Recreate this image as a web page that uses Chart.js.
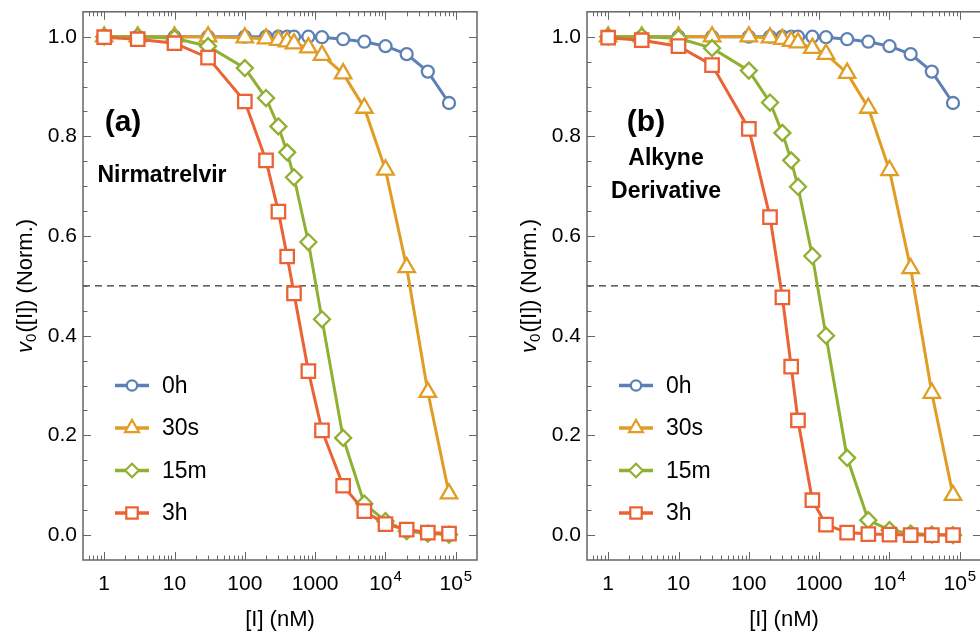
<!DOCTYPE html>
<html>
<head>
<meta charset="utf-8">
<script src="https://cdn.jsdelivr.net/npm/chart.js@4.4.0/dist/chart.umd.min.js"></script>
<style>
  body { margin: 0; background: #fff; overflow: hidden; width: 980px; height: 635px; position: relative; }
  canvas { position: absolute; top: 0; }
  #chartA { left: 0; }
  #chartB { left: 490px; }
</style>
</head>
<body>
<canvas id="chartA" width="490" height="635"></canvas>
<canvas id="chartB" width="510" height="635"></canvas>
<script>
// inhibitor concentration (nM)
const concNM = [1, 3, 10, 30, 100, 200, 300, 400, 500, 800, 1250, 2500, 5000, 10000, 20000, 40000, 80000];
const seriesNames = ['0h', '30s', '15m', '3h'];

// (a) Nirmatrelvir
const nirm0h  = [1, 1, 1, 1, 1, 1, 1, 1, 1, 1, 0.999, 0.995, 0.99, 0.981, 0.965, 0.93, 0.867];
const nirm30s = [1, 1, 1, 1, 0.998, 0.996, 0.993, 0.99, 0.986, 0.978, 0.963, 0.926, 0.857, 0.733, 0.537, 0.287, 0.083];
const nirm15m = [1, 1, 0.997, 0.981, 0.937, 0.877, 0.82, 0.768, 0.718, 0.588, 0.433, 0.195, 0.063, 0.028, 0.008, 0.003, 0.001];
const nirm3h  = [0.999, 0.995, 0.987, 0.958, 0.87, 0.752, 0.649, 0.559, 0.485, 0.329, 0.21, 0.099, 0.048, 0.022, 0.011, 0.005, 0.003];

// (b) Alkyne derivative
const alk0h  = [1, 1, 1, 1, 1, 1, 1, 1, 1, 1, 0.999, 0.995, 0.99, 0.981, 0.965, 0.93, 0.867];
const alk30s = [1, 1, 1, 1, 1, 0.998, 0.995, 0.991, 0.988, 0.977, 0.965, 0.927, 0.857, 0.732, 0.535, 0.285, 0.08];
const alk15m = [1, 1, 0.997, 0.977, 0.932, 0.868, 0.807, 0.752, 0.699, 0.56, 0.4, 0.155, 0.03, 0.01, 0.003, 0.001, 0];
const alk3h  = [0.998, 0.993, 0.981, 0.943, 0.815, 0.638, 0.477, 0.338, 0.23, 0.07, 0.021, 0.005, 0.002, 0.001, 0, 0, 0];

const halfLine = 0.5;
const xMin = 0.5, xMax = 2e5;
const yMin = -0.05, yMax = 1.05;
const xTickValues = [1, 10, 100, 1000, 1e4, 1e5];
const xTickBase = ['1', '10', '100', '1000', '10', '10'];
const xTickExp = ['', '', '', '', '4', '5'];

const seriesColors = ['#5E81B5', '#E19C24', '#8FB032', '#EB6235'];
const markerStyles = ['circle', 'triangle', 'rectRot', 'rect'];
const markerSizes = [6, 9.5, 8, 9.5];

const fam = '"Liberation Sans", Arial, sans-serif';
const frameColor = '#666';

function drawMarker(ctx, i, px, py) {
  ctx.save();
  ctx.fillStyle = '#fff';
  ctx.strokeStyle = seriesColors[i];
  ctx.lineWidth = 2.2;
  Chart.helpers.drawPoint(ctx, { pointStyle: markerStyles[i], radius: markerSizes[i] * 0.85, borderWidth: 2.2, rotation: 0 }, px, py);
  ctx.restore();
}

function makePanel(id, p) {
  const datasets = seriesNames.map((name, i) => ({
    label: name,
    data: concNM.map((c, k) => ({ x: c, y: p.values[i][k] })),
    borderColor: seriesColors[i],
    backgroundColor: '#fff',
    pointBackgroundColor: '#fff',
    pointBorderColor: seriesColors[i],
    pointStyle: markerStyles[i],
    pointRadius: markerSizes[i],
    pointBorderWidth: 2.3,
    borderWidth: 3,
    tension: 0,
    order: seriesNames.length - i
  }));
  datasets.push({
    label: 'half',
    data: [{ x: xMin, y: halfLine }, { x: xMax, y: halfLine }],
    borderColor: '#000', borderWidth: 1, borderDash: [7, 5],
    pointRadius: 0, order: 10
  });

  const decor = {
    id: 'decor',
    afterDraw(chart) {
      const { ctx, chartArea: a, scales: { x, y } } = chart;
      ctx.save();
      // inward ticks on all sides
      ctx.strokeStyle = frameColor;
      ctx.lineWidth = 1;
      ctx.beginPath();
      for (let n = -1; n <= 5; n++) {
        for (let k = 1; k <= 9; k++) {
          const v = k * Math.pow(10, n);
          if (v <= xMin || v >= xMax) continue;
          const px = Math.round(x.getPixelForValue(v)) + 0.5;
          const len = k === 1 ? 8 : 4.5;
          ctx.moveTo(px, a.bottom); ctx.lineTo(px, a.bottom - len);
          ctx.moveTo(px, a.top); ctx.lineTo(px, a.top + len);
        }
      }
      for (let i = -1; i <= 21; i++) {
        const v = i * 0.05;
        if (v <= yMin + 1e-9 || v >= yMax - 1e-9) continue;
        const py = Math.round(y.getPixelForValue(v)) + 0.5;
        const len = i % 4 === 0 ? 8 : 4.5;
        ctx.moveTo(a.left, py); ctx.lineTo(a.left + len, py);
        ctx.moveTo(a.right, py); ctx.lineTo(a.right - len, py);
      }
      ctx.stroke();
      // frame
      ctx.lineWidth = 1.5;
      ctx.strokeRect(a.left, a.top, a.right - a.left, a.bottom - a.top);

      // x tick labels with superscripts
      ctx.fillStyle = '#000';
      ctx.textBaseline = 'alphabetic';
      ctx.textAlign = 'left';
      xTickValues.forEach((v, i) => {
        const px = x.getPixelForValue(v);
        ctx.font = '21px ' + fam;
        const wb = ctx.measureText(xTickBase[i]).width;
        ctx.font = '15px ' + fam;
        const we = xTickExp[i] ? ctx.measureText(xTickExp[i]).width + 1 : 0;
        const x0 = px - (wb + we) / 2;
        ctx.font = '21px ' + fam;
        ctx.fillText(xTickBase[i], x0, a.bottom + 30);
        if (xTickExp[i]) {
          ctx.font = '15px ' + fam;
          ctx.fillText(xTickExp[i], x0 + wb + 1, a.bottom + 21);
        }
      });

      // x axis title
      ctx.font = '22px ' + fam;
      ctx.textAlign = 'center';
      ctx.textBaseline = 'middle';
      ctx.fillText('[I] (nM)', (a.left + a.right) / 2, a.bottom + 60);

      // y axis title: v0([I]) (Norm.)
      ctx.save();
      ctx.translate(a.left - 57, (a.top + a.bottom) / 2);
      ctx.rotate(-Math.PI / 2);
      ctx.textAlign = 'left';
      ctx.textBaseline = 'middle';
      const fv = 'italic 22px ' + fam, fs = '15px ' + fam, fm = '22px ' + fam;
      ctx.font = fv; const w1 = ctx.measureText('v').width;
      ctx.font = fs; const w2 = ctx.measureText('0').width;
      ctx.font = fm; const w3 = ctx.measureText('([I]) (Norm.)').width;
      let tx = -(w1 + w2 + w3 + 1) / 2;
      ctx.font = fv; ctx.fillText('v', tx, 0); tx += w1;
      ctx.font = fs; ctx.fillText('0', tx, 6); tx += w2 + 1;
      ctx.font = fm; ctx.fillText('([I]) (Norm.)', tx, 0);
      ctx.restore();

      // panel letter and compound name
      ctx.textAlign = 'center';
      ctx.textBaseline = 'middle';
      ctx.font = 'bold 30px ' + fam;
      ctx.fillText(p.letter, a.left + p.letterDx, 123);
      ctx.font = 'bold 23px ' + fam;
      p.name.forEach((t, i) => ctx.fillText(t, a.left + 79, p.nameY[i]));

      // legend
      ctx.textAlign = 'left';
      ctx.font = '23px ' + fam;
      seriesNames.forEach((name, i) => {
        const ly = 385.5 + i * 42.5;
        ctx.strokeStyle = seriesColors[i];
        ctx.lineWidth = 3.5;
        ctx.beginPath();
        ctx.moveTo(a.left + 32, ly); ctx.lineTo(a.left + 66, ly);
        ctx.stroke();
        drawMarker(ctx, i, a.left + 49, ly);
        ctx.fillStyle = '#000';
        ctx.fillText(name, a.left + 79, ly + 1);
      });
      ctx.restore();
    }
  };

  return new Chart(document.getElementById(id), {
    type: 'line',
    data: { datasets },
    options: {
      responsive: false,
      animation: false,
      layout: { padding: { left: 0, right: p.padRight, top: 10, bottom: 0 } },
      plugins: { legend: { display: false }, tooltip: { enabled: false } },
      scales: {
        x: {
          type: 'logarithmic', min: xMin, max: xMax,
          grid: { display: false, drawTicks: false },
          border: { display: false },
          ticks: { display: false },
          afterFit: s => { s.height = 75; }
        },
        y: {
          min: yMin, max: yMax,
          grid: { display: false, drawTicks: false },
          border: { display: false },
          ticks: {
            stepSize: 0.2, includeBounds: false, padding: 6, color: '#000',
            font: { family: fam, size: 21 },
            callback: v => v.toFixed(1)
          },
          afterFit: s => { s.width = p.yWidth; s.paddingTop = 0; s.paddingBottom = 0; }
        }
      }
    },
    plugins: [decor]
  });
}

makePanel('chartA', {
  values: [nirm0h, nirm30s, nirm15m, nirm3h],
  letter: '(a)', letterDx: 40,
  name: ['Nirmatrelvir'], nameY: [176],
  yWidth: 83, padRight: 13
});
makePanel('chartB', {
  values: [alk0h, alk30s, alk15m, alk3h],
  letter: '(b)', letterDx: 59,
  name: ['Alkyne', 'Derivative'], nameY: [159, 192],
  yWidth: 97, padRight: 19
});
</script>
</body>
</html>
